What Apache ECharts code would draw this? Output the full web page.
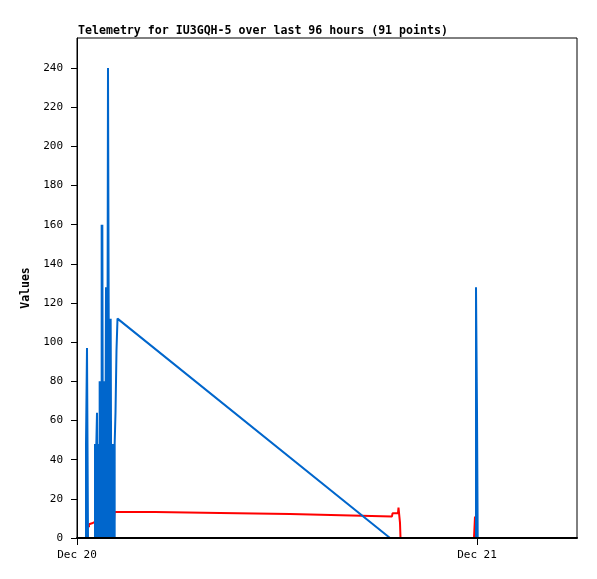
<!DOCTYPE html>
<html>
<head>
<meta charset="utf-8">
<script src="https://cdn.jsdelivr.net/npm/echarts@6/dist/echarts.min.js"></script>
<style>html,body{margin:0;padding:0;background:#fff}#c{width:597px;height:579px}</style>
</head>
<body>
<div id="c"></div>
<script>
// hours after Dec 20 00:00
const titleText = 'Telemetry for IU3GQH-5 over last 96 hours (91 points)';
const xTickValues = [0, 24];
const xTickLabels = ['Dec 20', 'Dec 21'];
const yTickValues = [0,20,40,60,80,100,120,140,160,180,200,220,240];

const blueHours = [
  0.54,0.54,0.60,0.60,0.66,0.66,
  1.08,1.08,1.12,1.12,1.12,1.16,1.16,1.16,1.20,1.20,1.24,1.24,1.24,1.28,1.28,1.28,1.32,1.32,1.32,1.36,1.36,1.36,1.40,1.40,1.40,1.44,1.44,1.44,1.48,1.48,1.48,1.52,1.52,1.52,1.56,1.56,1.56,1.60,1.60,1.60,1.62,1.62,
  1.68,1.68,1.72,1.72,1.72,1.74,1.74,1.78,1.78,1.78,1.82,1.82,1.82,1.86,1.86,1.90,1.90,1.94,1.94,1.94,1.98,1.98,2.02,2.02,2.06,2.06,2.06,2.10,2.10,2.10,2.14,2.14,2.14,2.18,2.18,2.18,2.22,2.22,2.22,2.26,2.26,2.26,2.28,
  2.31,2.31,2.37,2.37,2.43,2.43,2.52,
  18.78,23.94,23.94,24.00,24.00,24.042,24.042];
const blueValues = [
  0,48,48,97,97,0,
  0,48,48,0,48,48,0,48,48,64,64,0,48,48,0,48,48,0,48,48,0,80,80,0,80,80,0,80,80,0,160,160,0,160,160,0,80,80,0,80,80,0,
  0,80,80,0,80,80,128,128,0,48,48,0,48,48,240,240,120,120,0,48,48,32,32,112,112,0,48,48,0,48,48,0,48,48,0,48,48,0,48,48,0,48,48,
  48,64,64,96,96,112,112,
  0,0,128,128,64,64,0];

const redHours = [0.72,0.72,0.90,1.02,1.14,2.22,2.25,4.68,4.74,8.58,8.64,12.78,12.84,18.90,18.93,19.26,19.29,19.35,19.38,19.41,23.82,23.84,23.88,23.92];
const redValues = [5.5,7,7.5,8,8.5,8.5,13.3,13.3,12.8,12.8,12.3,12.3,11.5,11,12.6,12.6,15.5,15.5,7.7,0,0,3.5,11,0];

const zip = (a, b) => a.map((v, i) => [v, b[i]]);
const font = '"DejaVu Sans Mono", monospace';

const chart = echarts.init(document.getElementById('c'), null, {renderer: 'canvas'});
chart.setOption({
  animation: false,
  title: {
    text: titleText, left: 73, top: 20,
    textStyle: {fontFamily: font, fontSize: 11.6, fontWeight: 'bold', color: '#000'}
  },
  grid: {left: 77, right: 20, top: 38, bottom: 41, show: true, borderColor: '#000', borderWidth: 1, backgroundColor: 'transparent'},
  xAxis: {
    type: 'value', min: 0, max: 30, z: 10,
    axisLine: {show: true, onZero: false, lineStyle: {color: '#000', width: 2}},
    axisTick: {show: true, length: 7, customValues: xTickValues, lineStyle: {color: '#000'}},
    axisLabel: {customValues: xTickValues, margin: 12, fontFamily: font, fontSize: 11, color: '#000',
      formatter: v => xTickLabels[xTickValues.indexOf(v)] || ''},
    splitLine: {show: false}
  },
  yAxis: {
    type: 'value', min: 0, max: 255.3,
    name: 'Values', nameLocation: 'middle', nameGap: 37,
    nameTextStyle: {fontFamily: font, fontSize: 11.5, fontWeight: 'bold', color: '#000'},
    axisLine: {show: true, lineStyle: {color: '#000', width: 1}},
    axisTick: {show: true, length: 6, customValues: yTickValues, lineStyle: {color: '#000'}},
    axisLabel: {customValues: yTickValues, margin: 14, fontFamily: font, fontSize: 11, color: '#000'},
    splitLine: {show: false}
  },
  series: [
    {type: 'line', data: zip(redHours, redValues), showSymbol: false, symbol: 'none',
     lineStyle: {color: '#ff0000', width: 2}, z: 2},
    {type: 'line', data: zip(blueHours, blueValues), showSymbol: false, symbol: 'none',
     lineStyle: {color: '#0066cc', width: 2}, z: 3}
  ]
});
</script>
</body>
</html>
